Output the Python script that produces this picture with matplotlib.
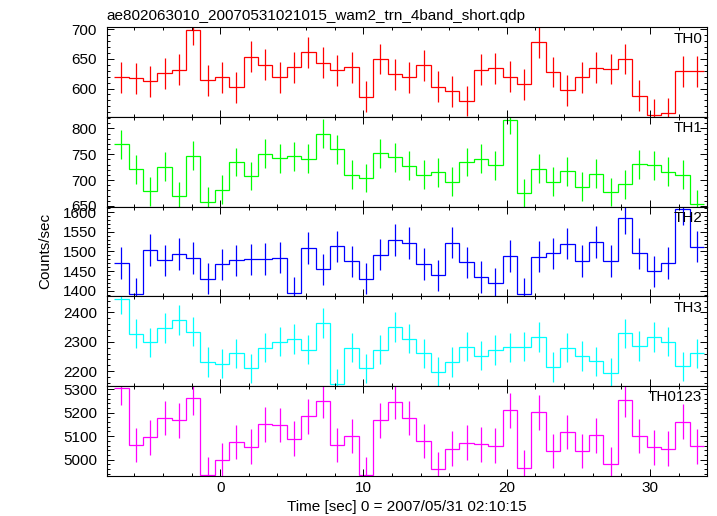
import numpy as np
import matplotlib
matplotlib.use("Agg")
import matplotlib.pyplot as plt
from matplotlib.ticker import MultipleLocator

plt.rcParams['font.family'] = ['Liberation Sans', 'DejaVu Sans']

# Light curves, 1 s bins (counts/sec)
th0 = [619, 617, 612, 626, 632, 699, 614, 619, 602, 654, 640, 619, 636, 661, 644,
       631, 636, 586, 650, 624, 619, 639, 603, 595, 579, 632, 634, 620, 607, 678,
       628, 597, 619, 635, 633, 650, 588, 556, 558, 629, 629]
th1 = [769, 721, 678, 726, 669, 747, 658, 681, 735, 708, 751, 742, 746, 741, 790,
       760, 710, 704, 752, 744, 728, 710, 715, 697, 735, 741, 729, 817, 675, 722,
       697, 717, 687, 712, 677, 692, 731, 729, 716, 710, 653]
th2 = [1471, 1392, 1504, 1477, 1493, 1483, 1431, 1467, 1477, 1480, 1481, 1484, 1394, 1509, 1454,
       1513, 1475, 1431, 1492, 1529, 1521, 1468, 1439, 1522, 1472, 1435, 1419, 1488, 1392, 1487,
       1495, 1520, 1476, 1524, 1476, 1584, 1495, 1449, 1471, 1608, 1512]
th3 = [2445, 2328, 2298, 2347, 2374, 2334, 2231, 2226, 2261, 2210, 2280, 2300, 2310, 2273, 2364,
       2158, 2280, 2210, 2273, 2350, 2311, 2261, 2197, 2231, 2283, 2253, 2272, 2281, 2283, 2316,
       2214, 2280, 2251, 2233, 2194, 2329, 2286, 2316, 2300, 2216, 2261]
th0123 = [5306, 5063, 5095, 5177, 5168, 5263, 4935, 4997, 5075, 5055, 5151, 5148, 5090, 5185, 5250,
          5062, 5100, 4935, 5168, 5247, 5177, 5079, 4958, 5046, 5072, 5065, 5059, 5211, 4966, 5202,
          5036, 5118, 5036, 5103, 4979, 5254, 5100, 5052, 5046, 5162, 5057]

names = ['TH0', 'TH1', 'TH2', 'TH3', 'TH0123']
errs = [26, 28, 40, 50, 74]
colors = ['#ff0000', '#00ff00', '#0000ff', '#00ffff', '#ff00ff']
ylims = [(552, 703.5), (648.7, 822.4), (1386, 1614), (2150, 2455), (4932, 5315)]
yminor = [10, 10, 10, 20, 20]
ymajor = [50, 50, 50, 100, 100]

t_first, t_last = -7.4, 33.78
edges = np.linspace(t_first, t_last, len(th0) + 1)
centers = 0.5 * (edges[:-1] + edges[1:])

W, H = 717, 516
fig = plt.figure(figsize=(W / 100, H / 100), dpi=100)

left, right = 106.7, 706.7
top, bottom = 27.3, 475.5
ph = (bottom - top) / 5

series = [th0, th1, th2, th3, th0123]
axes = []
for i, y in enumerate(series):
    y0 = top + i * ph
    ax = fig.add_axes([left / W, 1 - (y0 + ph) / H, (right - left) / W, ph / H])
    y = np.array(y)
    ax.stairs(y, edges, baseline=None, color=colors[i], lw=0.9)
    ax.errorbar(centers, y, yerr=errs[i], fmt='none', ecolor=colors[i], elinewidth=0.9, capsize=0)
    ax.set_xlim(-7.92, 33.96)
    ax.set_ylim(*ylims[i])
    ax.xaxis.set_major_locator(MultipleLocator(10))
    ax.xaxis.set_minor_locator(MultipleLocator(2))
    ax.yaxis.set_major_locator(MultipleLocator(ymajor[i]))
    ax.yaxis.set_minor_locator(MultipleLocator(yminor[i]))
    ax.tick_params(which='both', direction='in', top=True, right=True, width=0.7, labelsize=11)
    ax.tick_params(which='major', length=4.7)
    ax.tick_params(which='minor', length=2)
    ax.tick_params(axis='y', pad=7)
    ax.tick_params(axis='x', pad=4)
    for s in ax.spines.values():
        s.set_linewidth(0.8)
    if i < 4:
        ax.tick_params(axis='x', labelbottom=False)
    ax.text(0.993, 0.95, names[i], transform=ax.transAxes, ha='right', va='top', fontsize=11)
    axes.append(ax)

fig.text(left / W, 1 - 20 / H, 'ae802063010_20070531021015_wam2_trn_4band_short.qdp',
         ha='left', va='baseline', fontsize=11)
fig.text(45 / W, 1 - (top + bottom) / 2 / H, 'Counts/sec', rotation=90,
         ha='center', va='center', fontsize=11)
fig.text((left + right) / 2 / W, 1 - 507 / H, 'Time [sec] 0 = 2007/05/31 02:10:15',
         ha='center', va='center', fontsize=11)

fig.savefig('out.png', dpi=100)
